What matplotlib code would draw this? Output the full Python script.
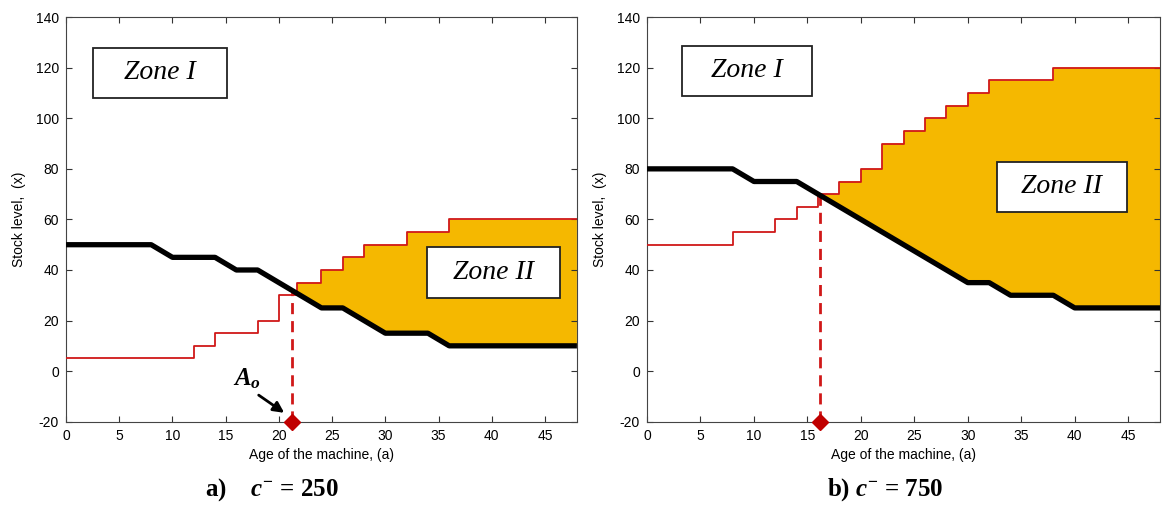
import numpy as np
import matplotlib.pyplot as plt

plt.rcParams['font.family'] = ['Liberation Sans', 'DejaVu Sans']
plt.rcParams['axes.unicode_minus'] = False
plt.rcParams['mathtext.fontset'] = 'custom'
plt.rcParams['mathtext.rm'] = 'Liberation Serif:bold'
plt.rcParams['mathtext.it'] = 'Liberation Serif:italic:bold'
plt.rcParams['mathtext.bf'] = 'Liberation Serif:bold'

# panel a) c- = 250
a_black_x = [0, 8, 10, 14, 16, 18, 24, 26, 30, 34, 36, 48]
a_black_y = [50, 50, 45, 45, 40, 40, 25, 25, 15, 15, 10, 10]
a_red_x = [0, 12, 14, 18, 20, 21.7, 24, 26, 28, 32, 36, 48]
a_red_y = [5, 10, 15, 20, 30, 35, 40, 45, 50, 55, 60, 60]
a_ao = 21.2
a_fill_start = 21.7

# panel b) c- = 750
b_black_x = [0, 8, 10, 14, 30, 32, 34, 38, 40, 48]
b_black_y = [80, 80, 75, 75, 35, 35, 30, 30, 25, 25]
b_red_x = [0, 8, 12, 14, 16, 18, 20, 22, 24, 26, 28, 30, 32, 38, 48]
b_red_y = [50, 55, 60, 65, 70, 75, 80, 90, 95, 100, 105, 110, 115, 120, 120]
b_ao = 16.2
b_fill_start = 16.0

orange = '#F5B800'
red = '#D01818'


def zone_polygon(rx, ry, bx, by, x0):
    # upper edge: red staircase from x0, lower edge: black line back to x0
    ux, uy = [], []
    for i in range(len(rx) - 1):
        if rx[i + 1] <= x0:
            continue
        xs = max(rx[i], x0)
        ux += [xs, rx[i + 1]]
        uy += [ry[i], ry[i]]
    lx = [x for x in bx if x > x0][::-1] + [x0]
    ly = list(np.interp(lx, bx, by))
    return ux + lx, uy + ly


def draw_panel(ax, rx, ry, bx, by, ao, x0, zone1, zone2):
    px, py = zone_polygon(rx, ry, bx, by, x0)
    ax.fill(px, py, color=orange, lw=0, zorder=1)
    ax.step(rx, ry, where='post', color=red, lw=1.3, zorder=3)
    ax.plot(bx, by, color='black', lw=3.8, zorder=4, solid_capstyle='butt')
    y_ao = np.interp(ao, bx, by)
    ax.plot([ao, ao], [-20, y_ao], color=red, lw=2, ls=(0, (4, 2.5)), zorder=2)
    ax.plot(ao, -20, marker='D', color='#C00000', ms=8, zorder=6, clip_on=False)

    for (cx0, cy0, cx1, cy1, txt) in [zone1, zone2]:
        ax.add_patch(plt.Rectangle((cx0, cy0), cx1 - cx0, cy1 - cy0, fc='white',
                                   ec='#222222', lw=1.3, zorder=7))
        ax.text((cx0 + cx1) / 2, (cy0 + cy1) / 2, txt, family='Liberation Serif',
                style='italic', fontsize=20, ha='center', va='center', zorder=8)

    ax.set_xlim(0, 48)
    ax.set_ylim(-20, 140)
    ax.set_xticks(np.arange(0, 50, 5))
    ax.set_yticks(np.arange(-20, 141, 20))
    ax.tick_params(direction='in', top=True, right=True, length=4, labelsize=10,
                   color='#333333', pad=5)
    for s in ax.spines.values():
        s.set_color('#444444')
    ax.set_xlabel('Age of the machine, (a)', fontsize=10, labelpad=4)
    ax.set_ylabel('Stock level,  (x)', fontsize=10, labelpad=7)


fig = plt.figure(figsize=(11.69, 5.05), dpi=100)
ax1 = fig.add_axes([0.0565, 0.165, 0.437, 0.801])
ax2 = fig.add_axes([0.5535, 0.165, 0.439, 0.801])

draw_panel(ax1, a_red_x, a_red_y, a_black_x, a_black_y, a_ao, a_fill_start,
           (2.5, 108, 15.1, 128, 'Zone I'), (33.9, 29, 46.4, 49, 'Zone II'))
draw_panel(ax2, b_red_x, b_red_y, b_black_x, b_black_y, b_ao, b_fill_start,
           (3.3, 109, 15.4, 128.7, 'Zone I'), (32.7, 63, 44.9, 82.7, 'Zone II'))

ax1.annotate('', xy=(20.5, -16.5), xytext=(18.1, -9.5),
             arrowprops=dict(arrowstyle='-|>', color='black', lw=2,
                             mutation_scale=16, shrinkA=0, shrinkB=0), zorder=9)
ax1.text(17.0, -3, '$A_o$', fontsize=18, ha='center', va='center', zorder=9)

fig.text(0.2325, 0.03, 'a)    $c^{-}$ = 250', fontsize=18, ha='center', va='center',
         family='Liberation Serif', weight='bold')
fig.text(0.757, 0.03, 'b) $c^{-}$ = 750', fontsize=18, ha='center', va='center',
         family='Liberation Serif', weight='bold')

fig.savefig('out.png', dpi=100)
